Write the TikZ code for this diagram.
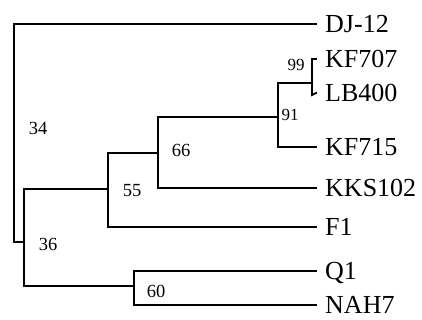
\documentclass[tikz,border=0pt]{standalone}
\usepackage{fontspec}
\setmainfont{Liberation Serif}
\begin{document}
\begin{tikzpicture}[x=1pt,y=-1pt,
  br/.style={line width=1.8pt, line cap=rect},
  thk/.style={line width=2.3pt, line cap=rect},
  leaf/.style={anchor=west, inner ysep=0pt, inner xsep=9pt, text height=17pt, text depth=0pt, font=\fontsize{26}{28}\selectfont},
  boot/.style={inner sep=0pt, font=\fontsize{18.5}{20}\selectfont},
  sboot/.style={inner sep=0pt, font=\fontsize{17}{18}\selectfont}]
\useasboundingbox (0,0) rectangle (422,320);
% internal coordinates
\coordinate (r) at (14,242);
\coordinate (rt) at (14,24);
\coordinate (a36) at (24,242);
\coordinate (a36t) at (24,189);
\coordinate (a36b) at (24,286);
\coordinate (a55) at (108,189);
\coordinate (a55t) at (108,153);
\coordinate (a55b) at (108,227);
\coordinate (a66) at (158,153);
\coordinate (a66t) at (158,117);
\coordinate (a66b) at (158,188);
\coordinate (a91) at (278,117);
\coordinate (a91t) at (278,83);
\coordinate (a91b) at (278,147);
\coordinate (a99) at (312,83);
\coordinate (a99t) at (312,59);
\coordinate (a99b) at (312,95);
\coordinate (a60) at (134,286);
\coordinate (a60t) at (134,271);
\coordinate (a60b) at (134,305);
% leaves
\node[leaf] (dj) at (316,24) {DJ-12};
\node[leaf] (kf707) at (316,59) {KF707};
\node[leaf] (lb) at (316,93) {LB400};
\node[leaf] (kf715) at (316,147) {KF715};
\node[leaf] (kks) at (316,188) {KKS102};
\node[leaf] (f1) at (316,227) {F1};
\node[leaf] (q1) at (316,271) {Q1};
\node[leaf] (nah) at (316,305) {NAH7};
% branches
\draw[br] (dj.west) -- (rt) -- (r) -- (a36);
\draw[thk] (a36t) -- (a36b);
\draw[thk] (a36t) -- (a55);
\draw[br] (a55t) -- (a55b) -- (f1.west);
\draw[thk] (a55t) -- (a66);
\draw[thk] (a66t) -- (a66b);
\draw[br] (a66b) -- (kks.west);
\draw[br] (a66t) -- (a91);
\draw[br] (a91t) -- (a91b) -- (kf715.west);
\draw[br] (a91t) -- (a99);
\draw[br] (kf707.west) -- (a99t) -- (a99b) -- (lb.west);
\draw[br] (a36b) -- (a60);
\draw[br] (q1.west) -- (a60t) -- (a60b) -- (nah.west);
% bootstrap labels
\node[boot] (l34) at (38,128.5) {34};
\node[boot] (l66) at (181,150) {66};
\node[boot] (l55) at (132,191) {55};
\node[boot] (l36) at (48,244) {36};
\node[boot] (l60) at (156,291.5) {60};
\node[sboot] (l91) at (290,114.5) {91};
\node[sboot] (l99) at (296,65) {99};
\end{tikzpicture}
\end{document}
